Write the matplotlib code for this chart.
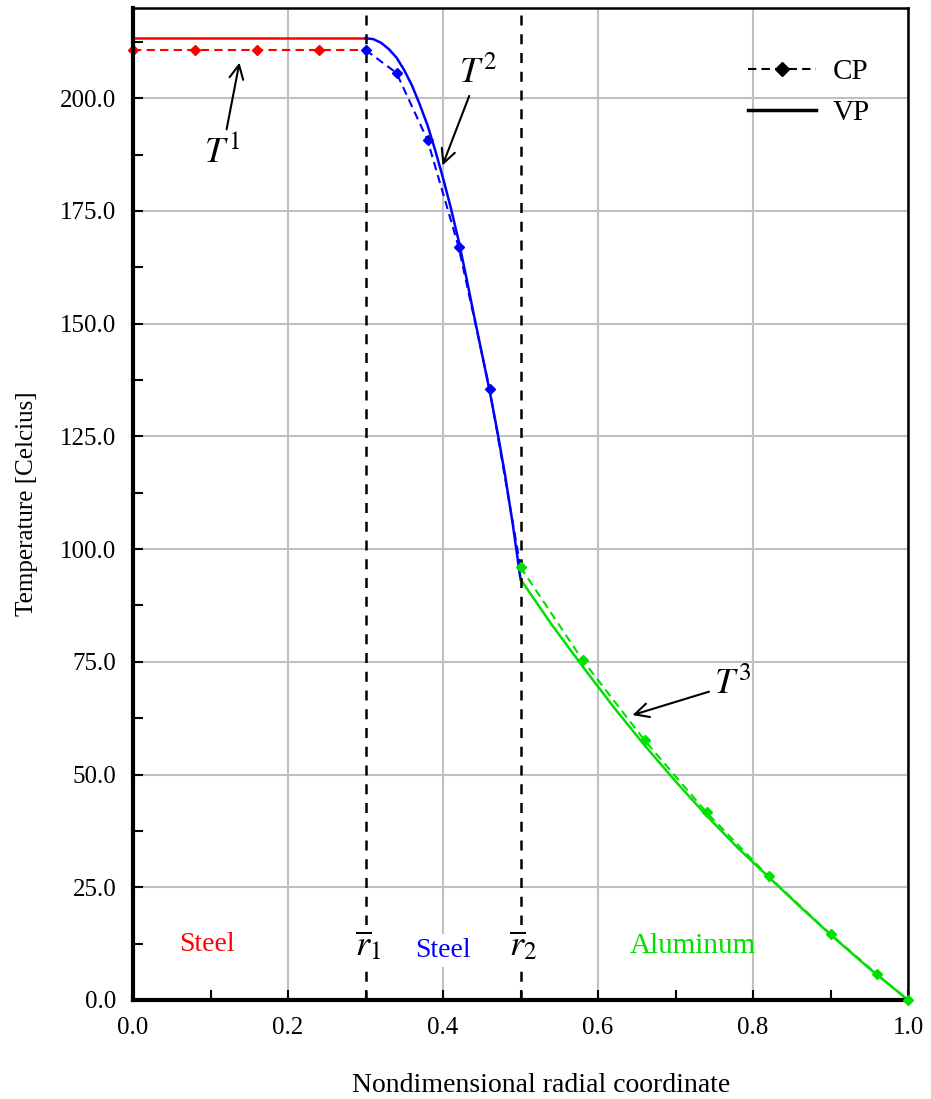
import matplotlib
matplotlib.use('Agg')
import matplotlib.pyplot as plt
from matplotlib.ticker import MultipleLocator, FormatStrFormatter

plt.rcParams['font.family'] = 'Liberation Serif'
plt.rcParams['mathtext.fontset'] = 'stix'

# interface radii
r1 = 0.3
r2 = 0.5

# CP (constant properties) - dashed with diamond markers
cp1_x = [0.0, 0.08, 0.16, 0.24, 0.30]
cp1_T = [210.7, 210.7, 210.7, 210.7, 210.7]
cp1_mark = [0.0, 0.08, 0.16, 0.24]
cp2_x = [0.30, 0.34, 0.38, 0.42, 0.46, 0.50]
cp2_T = [210.7, 205.6, 190.7, 167.1, 135.6, 96.0]
cp3_x = [0.50, 0.58, 0.66, 0.74, 0.82, 0.90, 0.96, 1.00]
cp3_T = [96.0, 75.4, 57.6, 41.6, 27.4, 14.6, 5.7, 0.0]

# VP (variable properties) - solid
vp1_x = [0.0, 0.30]
vp1_T = [213.3, 213.3]
vp2_x = [0.300, 0.310, 0.320, 0.330, 0.340, 0.350, 0.360, 0.370, 0.380, 0.390, 0.400,
         0.410, 0.420, 0.430, 0.440, 0.450, 0.460, 0.470, 0.480, 0.490, 0.500]
vp2_T = [213.3, 213.1, 212.3, 210.9, 209.0, 206.2, 202.8, 198.6, 194.0, 188.4, 182.3,
         175.7, 168.5, 160.3, 151.8, 143.5, 135.2, 126.2, 116.5, 105.5, 93.3]
vp3_x = [0.50, 0.54, 0.58, 0.62, 0.66, 0.70, 0.74, 0.78, 0.82, 0.86, 0.90, 0.95, 1.00]
vp3_T = [93.3, 83.3, 74.0, 65.0, 56.5, 48.5, 40.9, 33.8, 27.3, 20.8, 14.5, 7.0, 0.0]

fig = plt.figure(figsize=(9.31, 10.99), dpi=100)
ax = fig.add_axes([0.1429, 0.0901, 0.8324, 0.9026])

ax.grid(True, which='major', color='#c0c0c0', lw=1.5)
ax.set_axisbelow(True)

green = '#00e000'
dash = (0, (4, 2.5))

# layer 1
ax.plot(vp1_x, vp1_T, color='red', lw=1.8)
ax.plot(cp1_x, cp1_T, color='red', lw=1.5, ls=dash)
ax.plot(cp1_mark, cp1_T[:4], ls='none', marker='D', ms=5.5, color='red', clip_on=False)
# layer 2
ax.plot(vp2_x, vp2_T, color='blue', lw=1.8)
ax.plot(cp2_x[:-1], cp2_T[:-1], ls='none', marker='D', ms=5.5, color='blue', zorder=4)
ax.plot(cp2_x, cp2_T, color='blue', lw=1.5, ls=dash)
# layer 3
ax.plot(vp3_x, vp3_T, color=green, lw=1.8)
ax.plot(cp3_x, cp3_T, color=green, lw=1.5, ls=dash,
        marker='D', ms=5.5, clip_on=False, zorder=4)

# interfaces
for r in [r1, r2]:
    ax.plot([r, r], [0, 218.5], color='black', lw=1.8, ls=(0, (4, 3.5)), zorder=3)

bbox = dict(facecolor='white', edgecolor='none', pad=3)
ax.text(r1 + 0.003, 12.0, r'$\overline{r}_1$', fontsize=26, ha='center', va='center', bbox=bbox, zorder=5)
ax.text(r2 + 0.003, 12.0, r'$\overline{r}_2$', fontsize=26, ha='center', va='center', bbox=bbox, zorder=5)
ax.text(0.096, 12.3, 'Steel', color='red', fontsize=20, ha='center', va='center',
        bbox=dict(facecolor='white', edgecolor='none', pad=6), zorder=5)
ax.text(0.400, 11.0, 'Steel', color='blue', fontsize=20, ha='center', va='center', bbox=bbox, zorder=5)
ax.text(0.7226, 12.0, 'Aluminum', color=green, fontsize=21, ha='center', va='center', zorder=5)

# annotations
arrow = dict(arrowstyle='->', color='black', lw=1.5, mutation_scale=25)
ax.annotate(r'$T^{1}$', xy=(0.138, 208.5), xytext=(0.115, 188.0), fontsize=26,
            ha='center', va='center', arrowprops=arrow)
ax.annotate(r'$T^{2}$', xy=(0.398, 184.5), xytext=(0.445, 205.5), fontsize=26,
            ha='center', va='center', arrowprops=arrow)
ax.annotate(r'$T^{3}$', xy=(0.641, 63.0), xytext=(0.774, 70.0), fontsize=26,
            ha='center', va='center', arrowprops=arrow)

# legend
ax.plot([], [], color='black', lw=1.5, ls=dash, marker='D', ms=7, label='CP')
ax.plot([], [], color='black', lw=2.5, label='VP')
handles, labels = ax.get_legend_handles_labels()
ax.legend(handles[-2:], labels[-2:], loc='upper right', frameon=False, fontsize=21,
          handlelength=2.3, handletextpad=0.6, labelspacing=0.5,
          bbox_to_anchor=(0.985, 0.975))

ax.set_xlim(0, 1.0)
ax.set_ylim(0, 220)
ax.xaxis.set_major_locator(MultipleLocator(0.2))
ax.xaxis.set_minor_locator(MultipleLocator(0.1))
ax.yaxis.set_major_locator(MultipleLocator(25))
ax.yaxis.set_minor_locator(MultipleLocator(12.5))
ax.xaxis.set_major_formatter(FormatStrFormatter('%.1f'))
ax.yaxis.set_major_formatter(FormatStrFormatter('%.1f'))
ax.tick_params(which='both', direction='in', labelsize=18, top=False, right=False)
ax.tick_params(which='major', length=7, width=1.5, pad=12)
ax.tick_params(which='minor', length=7, width=1.5)

for s in ['left', 'bottom']:
    ax.spines[s].set_linewidth(3)
for s in ['top', 'right']:
    ax.spines[s].set_linewidth(1.8)

ax.set_xlabel('Nondimensional radial coordinate', fontsize=20, labelpad=20)
ax.xaxis.set_label_coords(0.527, -0.074)
ax.set_ylabel('Temperature [Celcius]', fontsize=18, labelpad=16)

fig.savefig('out.png', dpi=100)
